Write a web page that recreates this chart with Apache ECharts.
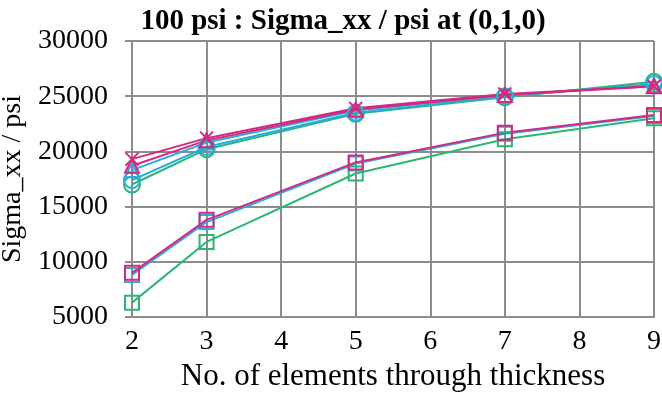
<!DOCTYPE html>
<html>
<head>
<meta charset="utf-8">
<script src="https://cdn.jsdelivr.net/npm/echarts@6/dist/echarts.min.js"></script>
<style>
  html, body { margin: 0; padding: 0; background: #fff; }
  #chart { width: 662px; height: 393px; }
</style>
</head>
<body>
<div id="chart"></div>
<script>
// Elements through thickness
var elements = [2, 3, 5, 7, 9];
var yTicks = [5000, 10000, 15000, 20000, 25000, 30000];

// Square-marker runs (lower family)
var squareGreen   = [6300, 11800, 18000, 21100, 23000];
var squareCyan    = [8800, 13600, 18900, 21600, 23200];
var squareMagenta = [9000, 13800, 19000, 21700, 23300];

// Upper family
var circleGreen     = [17000, 20200, 23400, 24900, 26300];
var circleCyan      = [17400, 20400, 23500, 25000, 26100];
var triangleCyan    = [18300, 20800, 23700, 25100, 26000];
var triangleMagenta = [18700, 21000, 23800, 25100, 25900];
var crossMagenta    = [19300, 21200, 23900, 25200, 25900];

var GREEN = '#2bb673', CYAN = '#29abe2', MAGENTA = '#d6287e';
var CROSS = 'path://M0,0L10,10M10,0L0,10';

function pairs(vals) {
  return elements.map(function (x, i) { return [x, vals[i]]; });
}
function line(name, vals, color, symbol, size) {
  return {
    name: name, type: 'line', data: pairs(vals),
    symbol: symbol, symbolSize: size, showSymbol: true,
    lineStyle: { color: color, width: 2 },
    itemStyle: { color: 'rgba(0,0,0,0)', borderColor: color, borderWidth: 2 },
    z: 3
  };
}

var font = 'Liberation Serif, Times New Roman, serif';
var chart = echarts.init(document.getElementById('chart'), null, { renderer: 'canvas' });
chart.setOption({
  animation: false,
  backgroundColor: '#fff',
  title: {
    text: '100 psi : Sigma_xx / psi at (0,1,0)',
    left: 338, textAlign: 'center', top: 2,
    textStyle: { fontFamily: font, fontWeight: 'bold', fontSize: 29, color: '#000' }
  },
  grid: { left: 132, right: 8, top: 41, bottom: 76, containLabel: false, outerBoundsMode: 'none' },
  xAxis: {
    type: 'value', min: 2, max: 9, interval: 1,
    name: 'No. of elements through thickness', nameLocation: 'middle', nameGap: 33,
    nameTextStyle: { fontFamily: font, fontSize: 31, color: '#000' },
    axisLine: { show: true, lineStyle: { color: '#8c8c8c', width: 2 } },
    axisTick: { show: false },
    axisLabel: { fontFamily: font, fontSize: 28, color: '#000', margin: 11 },
    splitLine: { show: true, lineStyle: { color: '#8c8c8c', width: 2 } }
  },
  yAxis: {
    type: 'value', min: yTicks[0], max: yTicks[yTicks.length - 1], interval: 5000,
    name: 'Sigma_xx / psi', nameLocation: 'middle', nameGap: 97,
    nameTextStyle: { fontFamily: font, fontSize: 28, color: '#000' },
    axisLine: { show: true, lineStyle: { color: '#8c8c8c', width: 2 } },
    axisTick: { show: true, length: 7, inside: false, lineStyle: { color: '#8c8c8c', width: 2 } },
    axisLabel: { fontFamily: font, fontSize: 28, color: '#000', margin: 24,
                 formatter: function (v) { return String(v); } },
    splitLine: { show: true, lineStyle: { color: '#8c8c8c', width: 2 } }
  },
  series: [
    line('Square green', squareGreen, GREEN, 'rect', 14),
    line('Square cyan', squareCyan, CYAN, 'rect', 14),
    line('Square magenta', squareMagenta, MAGENTA, 'rect', 14),
    line('Circle green', circleGreen, GREEN, 'circle', 16),
    line('Circle cyan', circleCyan, CYAN, 'circle', 16),
    line('Triangle cyan', triangleCyan, CYAN, 'triangle', 14),
    line('Triangle magenta', triangleMagenta, MAGENTA, 'triangle', 14),
    line('Cross magenta', crossMagenta, MAGENTA, CROSS, 13)
  ]
});
</script>
</body>
</html>
